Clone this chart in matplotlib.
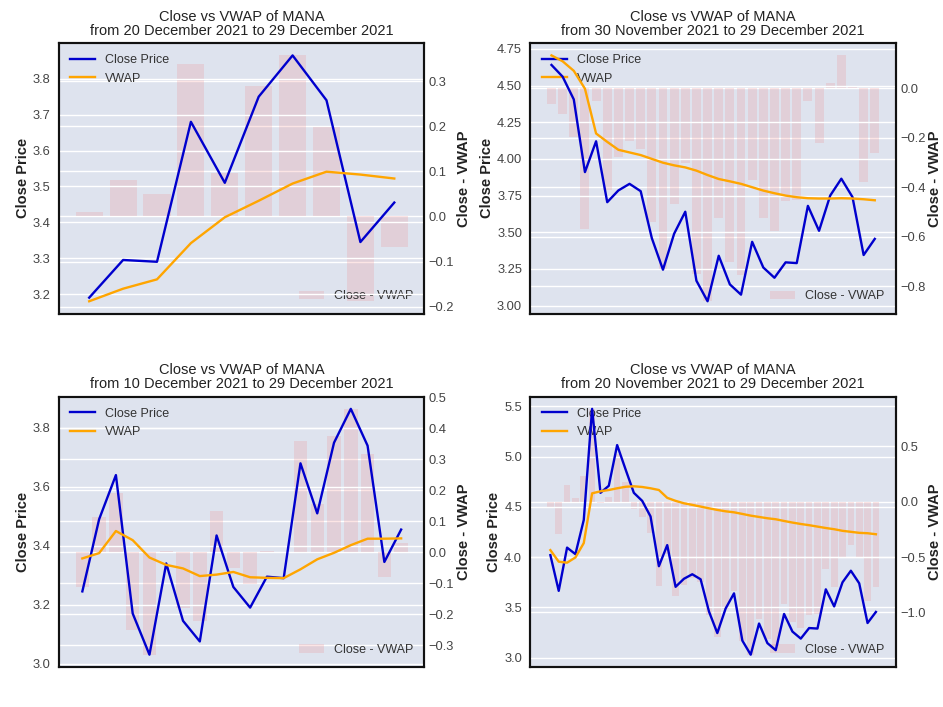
import numpy as np
import matplotlib.pyplot as plt

plt.rcParams['font.family'] = ['Liberation Sans', 'DejaVu Sans']

# Close price of MANA, 20 Nov 2021 -> 29 Dec 2021 (shorter windows are the tail)
close_40d = [4.02, 3.665, 4.095, 4.03, 4.37, 5.475, 4.64, 4.71, 5.115, 4.875,
             4.64, 4.56, 4.405, 3.91, 4.12, 3.705, 3.785, 3.83, 3.78, 3.46,
             3.245, 3.49, 3.64, 3.17, 3.03, 3.34, 3.145, 3.075, 3.435, 3.26,
             3.19, 3.295, 3.29, 3.68, 3.51, 3.75, 3.865, 3.74, 3.345, 3.455]

# VWAP (cumulative from the window start), one list per window
vwap_10d = [3.18, 3.215, 3.241, 3.342, 3.414, 3.46, 3.508, 3.541, 3.533, 3.522]

vwap_20d = [3.357, 3.375, 3.45, 3.419, 3.36, 3.335, 3.323, 3.297, 3.302, 3.311,
            3.293, 3.291, 3.29, 3.32, 3.354, 3.376, 3.402, 3.424, 3.424, 3.425]

vwap_30d = [4.705, 4.665, 4.60, 4.478, 4.173, 4.116, 4.062, 4.044, 4.026, 4.0,
            3.974, 3.956, 3.942, 3.92, 3.89, 3.863, 3.847, 3.83, 3.807, 3.784,
            3.766, 3.75, 3.739, 3.732, 3.73, 3.73, 3.732, 3.73, 3.725, 3.718]

vwap_40d = [4.07, 3.955, 3.945, 3.997, 4.14, 4.635, 4.655, 4.668, 4.685, 4.70,
            4.705, 4.698, 4.685, 4.668, 4.59, 4.56, 4.536, 4.52, 4.503, 4.486,
            4.47, 4.456, 4.446, 4.43, 4.413, 4.40, 4.387, 4.377, 4.36, 4.344,
            4.33, 4.318, 4.304, 4.29, 4.278, 4.262, 4.252, 4.242, 4.238, 4.228]

start_dates = ['20 December 2021', '30 November 2021', '10 December 2021', '20 November 2021']
end_date = '29 December 2021'
vwap_windows = [vwap_10d, vwap_30d, vwap_20d, vwap_40d]

BG = '#dee3ee'
TXT = '#444444'


def plot_close_vs_vwap(ax, close, vwap, start):
    close = np.array(close)
    vwap = np.array(vwap)
    diff = close - vwap
    x = np.arange(len(close))

    ax2 = ax.twinx()
    # bars behind, lines on top
    ax.set_zorder(2)
    ax2.set_zorder(1)
    ax.patch.set_visible(False)
    ax2.patch.set_visible(True)
    ax2.set_facecolor(BG)

    ax2.bar(x, diff, width=0.8, color='lightcoral', alpha=0.2, label='Close - VWAP')
    ax.plot(x, close, color='mediumblue', linewidth=1.7, label='Close Price', zorder=6)
    ax.plot(x, vwap, color='orange', linewidth=1.7, label='VWAP', zorder=6)

    ax.set_title(f'Close vs VWAP of MANA\nfrom {start} to {end_date}',
                 fontsize=10.5, color='#222222', linespacing=1.0)
    ax.set_ylabel('Close Price', fontsize=10.5, fontweight='bold', color='#222222', labelpad=2)
    ax2.set_ylabel('Close - VWAP', fontsize=10.5, fontweight='bold', color='#222222', labelpad=2)

    ax.set_xticks([])
    ax.tick_params(axis='y', length=0, pad=6, labelsize=9.3, labelcolor=TXT)
    ax2.tick_params(axis='y', length=0, pad=3, labelsize=9.3, labelcolor=TXT)

    for a in (ax, ax2):
        a.grid(axis='y', color='white', linewidth=1.0)
        a.grid(axis='x', visible=False)
        a.set_axisbelow(True)
        for sp in a.spines.values():
            sp.set_color('#111111')
            sp.set_linewidth(1.5)

    leg1 = ax.legend(loc='upper left', frameon=False, fontsize=9)
    for t in leg1.get_texts():
        t.set_color('#333333')
    leg2 = ax2.legend(loc='lower right', frameon=False, fontsize=9)
    for t in leg2.get_texts():
        t.set_color('#333333')


fig, axes = plt.subplots(2, 2, figsize=(9.43, 7.07), dpi=100)
fig.subplots_adjust(left=0.0626, right=0.950, top=0.939, bottom=0.0566,
                    wspace=0.29, hspace=0.307)

for ax, vwap, start in zip(axes.flat, vwap_windows, start_dates):
    n = len(vwap)
    plot_close_vs_vwap(ax, close_40d[-n:], vwap, start)

plt.savefig('out.png', dpi=100)
plt.close()
